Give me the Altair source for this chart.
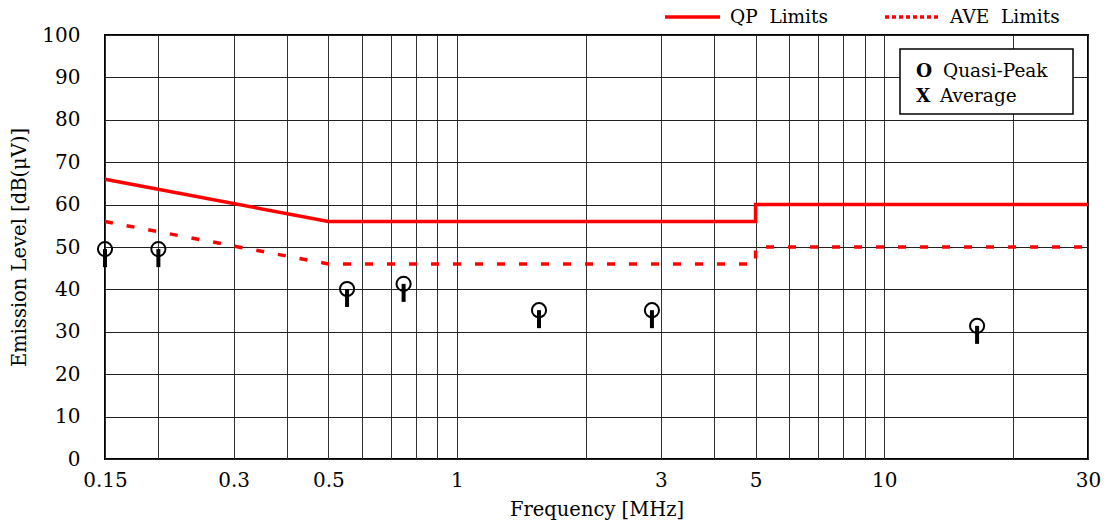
import altair as alt
import pandas as pd

FONT = "DejaVu Serif"

# Limit lines (frequency in MHz, level in dB(uV))
qp_freq = [0.15, 0.5, 5, 5, 30]
qp_level = [66, 56, 56, 60, 60]
ave_freq = [0.15, 0.5, 5, 5, 30]
ave_level = [56, 46, 46, 50, 50]

# Measured quasi-peak points
pt_freq = [0.15, 0.2, 0.553, 0.75, 1.556, 2.86, 16.5]
pt_level = [49.5, 49.5, 40.1, 41.3, 35.1, 35.1, 31.4]

grid_x = [0.15, 0.2, 0.3, 0.4, 0.5, 0.6, 0.7, 0.8, 0.9, 1, 2, 3, 4, 5, 6, 7, 8, 9, 10, 20, 30]
label_x = [0.15, 0.3, 0.5, 1, 3, 5, 10, 30]
y_ticks = list(range(0, 101, 10))

qp = pd.DataFrame({"freq": qp_freq, "level": qp_level, "i": range(len(qp_freq))})
ave = pd.DataFrame({"freq": ave_freq, "level": ave_level, "i": range(len(ave_freq))})
pts = pd.DataFrame({"freq": pt_freq, "level": pt_level})
one = pd.DataFrame({"a": [0]})

label_list = ",".join(str(v) for v in label_x)
x_enc = alt.X(
    "freq:Q",
    scale=alt.Scale(type="log", domain=[0.15, 30], nice=False),
    axis=alt.Axis(
        values=grid_x,
        format="~g",
        labelExpr=f"indexof([{label_list}], datum.value) >= 0 ? datum.label : ''",
        title="Frequency [MHz]",
        grid=True,
        ticks=False,
        domain=False,
        labelFlush=False,
        labelOverlap=False,
        labelPadding=11,
        titlePadding=10,
        gridColor="#333",
        gridWidth=1,
    ),
)
y_enc = alt.Y(
    "level:Q",
    scale=alt.Scale(domain=[0, 100], nice=False),
    axis=alt.Axis(
        values=y_ticks,
        title="Emission Level [dB(μV)]",
        grid=True,
        ticks=False,
        domain=False,
        labelFlush=False,
        labelPadding=25,
        titlePadding=12,
        gridColor="#222",
        gridWidth=1,
    ),
)

qp_line = alt.Chart(qp).mark_line(color="#ff0000", strokeWidth=3.5).encode(
    x=x_enc, y=y_enc, order="i:Q"
)
ave_line = alt.Chart(ave).mark_line(color="#ff0000", strokeWidth=3.5, strokeDash=[8, 14]).encode(
    x=x_enc, y=y_enc, order="i:Q"
)
stems = alt.Chart(pts).mark_rule(color="black", strokeWidth=4, y2Offset=18).encode(
    x=x_enc, y=y_enc, y2="level:Q"
)
circles = alt.Chart(pts).mark_point(
    shape="circle", size=200, filled=False, color="black", strokeWidth=2, opacity=1
).encode(x=x_enc, y=y_enc)

LEG = 18.5

# Inner legend box (Quasi-Peak / Average)
box = alt.Chart(one).mark_rect(fill="white", stroke="black", strokeWidth=1.5).encode(
    x=alt.value(795), x2=alt.value(968), y=alt.value(14), y2=alt.value(79)
)
sym_o = alt.Chart(one).mark_text(text="O", font=FONT, fontSize=LEG, fontWeight="bold", align="left", baseline="middle", color="black").encode(
    x=alt.value(811), y=alt.value(36)
)
sym_x = alt.Chart(one).mark_text(text="X", font=FONT, fontSize=LEG, fontWeight="bold", align="left", baseline="middle", color="black").encode(
    x=alt.value(811), y=alt.value(61)
)
txt_qp = alt.Chart(one).mark_text(text="Quasi-Peak", font=FONT, fontSize=LEG, align="left", baseline="middle", color="black").encode(
    x=alt.value(838), y=alt.value(36)
)
txt_av = alt.Chart(one).mark_text(text="Average", font=FONT, fontSize=LEG, align="left", baseline="middle", color="black").encode(
    x=alt.value(835), y=alt.value(61)
)

# Top legend (limits)
leg_qp = alt.Chart(one).mark_rule(color="#ff0000", strokeWidth=3.5).encode(
    x=alt.value(560), x2=alt.value(615), y=alt.value(-18)
)
leg_qp_t = alt.Chart(one).mark_text(text="QP\u00a0\u00a0Limits", font=FONT, fontSize=LEG, align="left", baseline="middle", color="black").encode(
    x=alt.value(625), y=alt.value(-18)
)
leg_av = alt.Chart(one).mark_rule(color="#ff0000", strokeWidth=3.5, strokeDash=[4, 3]).encode(
    x=alt.value(780), x2=alt.value(834), y=alt.value(-18)
)
leg_av_t = alt.Chart(one).mark_text(text="AVE\u00a0\u00a0Limits", font=FONT, fontSize=LEG, align="left", baseline="middle", color="black").encode(
    x=alt.value(845), y=alt.value(-18)
)

chart = alt.layer(
    qp_line, ave_line, stems, circles,
    box, sym_o, sym_x, txt_qp, txt_av,
    leg_qp, leg_qp_t, leg_av, leg_av_t,
).properties(
    width=983,
    height=424,
    autosize=alt.AutoSizeParams(type="none"),
    padding={"left": 105, "top": 35, "right": 21, "bottom": 65},
    background="white",
).configure_view(
    stroke="black", strokeWidth=2
).configure_axis(
    labelFont=FONT, titleFont=FONT, labelFontSize=20, titleFontSize=19.5,
    labelColor="black", titleColor="black", titleFontWeight="normal",
)

chart.save("out.html", embed_options={"renderer": "svg", "actions": False})
